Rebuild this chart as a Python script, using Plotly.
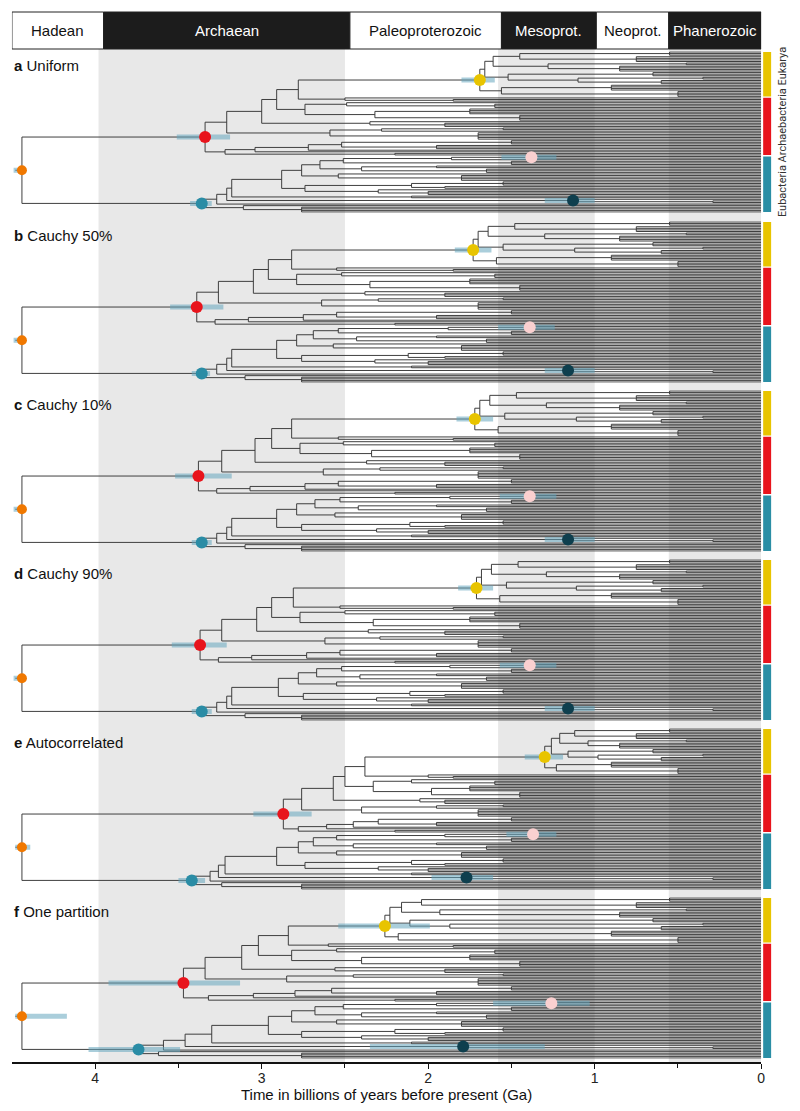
import plotly.graph_objects as go

# ---------------- page geometry (pixels of the 800x1111 page) ----------------
W, H = 800, 1111
X_LEFT_PX, X_RIGHT_PX = 12, 765
PANEL_TOP_PX = [52, 222, 391, 560, 729, 898]
ROW_PX = 1.584
AXIS_PX = 1063

# ---------------- text / categories ----------------
PANEL_LETTERS = ["a", "b", "c", "d", "e", "f"]
PANEL_TITLES = ["Uniform", "Cauchy 50%", "Cauchy 10%", "Cauchy 90%", "Autocorrelated", "One partition"]

ERA_NAMES = ["Hadean", "Archaean", "Paleoproterozoic", "Mesoprot.", "Neoprot.", "Phanerozoic"]
ERA_OLD = [4.50, 3.95, 2.47, 1.56, 0.99, 0.555]
ERA_YOUNG = [3.95, 2.47, 1.56, 0.99, 0.555, 0.0]
ERA_DARK = [False, True, False, True, False, True]

SHADE_OLD = [3.98, 1.58, 0.555]
SHADE_YOUNG = [2.50, 1.00, 0.0]

X_TICKS = [4, 3, 2, 1, 0]
X_MINOR = [3.5, 2.5, 1.5, 0.5]

# ---------------- tree topology ----------------
def N(name, *kids):
    return ("N", name, kids)

def P(k, name):
    return ("P", name, k)

T = ("T",)

TREE = N("ROOT",
  N("ARC",
    N("A1",
      N("A2",
        N("A3",
          N("A4",
            N("EUK",
              N("E1",
                N("E3",
                  N("E5", P(3, "p1"), P(4, "p2")),
                  N("E6", P(2, "p3"), P(4, "p4"))),
                N("E4", P(3, "p5"), N("E7", P(2, "p6"), P(3, "p7")))),
              N("E2", P(4, "p8"), P(4, "p9"))),
            N("ASG", T, P(2, "q1"))),
          N("A6", N("A6a", T, P(3, "q2")), N("A6b", P(4, "q3"), P(4, "q3b")))),
        N("A5", T, P(3, "q4"))),
      N("A7", N("A7a", P(2, "q5"), T), P(5, "q6"))),
    N("A9", N("A10", N("A11", N("A12", P(3, "q7"), P(3, "q8")), T), T), P(2, "q9"))),
  N("BAC",
    N("B1",
      N("B2",
        N("B3",
          N("B4",
            N("B5",
              N("B7",
                N("B9", N("B9a", N("PINK", T, T), T), P(3, "r9")),
                N("B10", P(2, "r10a"), P(3, "r10b"))),
              N("B8", T, P(4, "r8"))),
            N("B6", N("B6a", P(3, "r6a"), P(2, "r6b")), N("B6b", T, P(3, "r6c")))),
          P(2, "r3")),
        N("DARK", T, P(2, "dk"))),
      T),
    N("BLOW", T, P(4, "rlow"))))

# node ages (Ga) per panel, in the order of NODE_NAMES
NODE_NAMES = ["ROOT", "ARC", "A1", "A2", "A3", "A4",
              "EUK", "E1", "E3", "E5", "E6", "E4", "E7", "E2",
              "ASG", "A6", "A6a", "A6b", "A5", "A7", "A7a",
              "A9", "A10", "A11", "A12",
              "BAC", "B1", "B2", "B3", "B4", "B5", "B7", "B9", "B9a", "PINK",
              "B10", "B8", "B6", "B6a", "B6b", "DARK", "BLOW"]
AGES_A = [4.44, 3.34, 3.21, 3.00, 2.91, 2.78,
          1.69, 1.66, 1.61, 1.45, 1.28, 1.52, 1.10, 1.56,
          2.50, 2.74, 2.49, 2.32, 2.35, 2.59, 2.28,
          3.22, 3.04, 2.72, 2.52,
          3.36, 3.27, 3.21, 3.18, 2.88, 2.76, 2.65, 2.51, 1.86, 1.38,
          2.40, 2.54, 2.74, 2.10, 2.30, 1.13, 3.11]
AGES_B = [4.44, 3.39, 3.26, 3.05, 2.96, 2.82,
          1.73, 1.70, 1.64, 1.48, 1.30, 1.55, 1.12, 1.59,
          2.55, 2.79, 2.52, 2.35, 2.38, 2.64, 2.30,
          3.28, 3.08, 2.75, 2.55,
          3.36, 3.27, 3.21, 3.18, 2.91, 2.79, 2.69, 2.54, 1.88, 1.39,
          2.43, 2.57, 2.76, 2.12, 2.32, 1.16, 3.10]
AGES_C = [4.44, 3.38, 3.24, 3.04, 2.94, 2.82,
          1.72, 1.69, 1.63, 1.47, 1.29, 1.54, 1.11, 1.58,
          2.54, 2.77, 2.51, 2.34, 2.37, 2.63, 2.29,
          3.27, 3.07, 2.74, 2.54,
          3.36, 3.27, 3.21, 3.18, 2.91, 2.79, 2.68, 2.53, 1.87, 1.39,
          2.42, 2.56, 2.76, 2.11, 2.31, 1.16, 3.10]
AGES_D = [4.44, 3.37, 3.24, 3.03, 2.94, 2.81,
          1.71, 1.68, 1.62, 1.46, 1.29, 1.53, 1.11, 1.57,
          2.53, 2.77, 2.50, 2.33, 2.36, 2.62, 2.29,
          3.26, 3.06, 2.73, 2.53,
          3.36, 3.27, 3.21, 3.18, 2.90, 2.78, 2.67, 2.52, 1.87, 1.39,
          2.41, 2.55, 2.75, 2.11, 2.31, 1.16, 3.10]
AGES_E = [4.44, 2.87, 2.76, 2.57, 2.50, 2.38,
          1.30, 1.26, 1.21, 1.12, 1.04, 1.16, 0.98, 1.23,
          2.00, 2.33, 2.10, 1.98, 2.05, 2.40, 1.95,
          2.78, 2.61, 2.45, 2.30,
          3.42, 3.31, 3.26, 3.22, 2.91, 2.78, 2.69, 2.55, 1.90, 1.37,
          2.45, 2.55, 2.74, 2.10, 2.30, 1.77, 3.24]
AGES_F = [4.44, 3.47, 3.34, 3.12, 3.02, 2.84,
          2.26, 2.23, 2.16, 2.04, 1.93, 2.11, 1.87, 2.18,
          2.60, 2.82, 2.55, 2.40, 2.56, 2.85, 2.45,
          3.32, 3.05, 2.80, 2.58,
          3.74, 3.59, 3.46, 3.30, 2.96, 2.82, 2.68, 2.51, 1.95, 1.26,
          2.40, 2.55, 2.76, 2.20, 2.40, 1.79, 3.62]
PANEL_AGES = [AGES_A, AGES_B, AGES_C, AGES_D, AGES_E, AGES_F]

# crown ages of the small terminal clades (shared by all panels)
CROWN_NAMES = ["p1", "p2", "p3", "p4", "p5", "p6", "p7", "p8", "p9",
               "q1", "q2", "q3", "q3b", "q4", "q5", "q6", "q7", "q8", "q9",
               "r9", "r10a", "r10b", "r8", "r6a", "r6b", "r6c", "r3", "dk", "rlow"]
CROWN_AGES = [0.55, 0.75, 0.45, 0.85, 0.65, 0.35, 0.60, 0.90, 0.50,
              1.85, 1.60, 1.75, 1.45, 1.90, 1.55, 1.70, 1.50, 1.95, 2.20,
              1.50, 1.95, 1.65, 1.80, 1.55, 1.90, 2.00, 2.10, 0.29, 2.76]
ROOT_STEM = 0.04

# calibrated / highlighted nodes with 95% intervals (old, young)
MARK_NODES = ["ROOT", "ARC", "BAC", "EUK", "PINK", "DARK"]
MARK_COLORS = ["#F07800", "#E8141C", "#2A8CA5", "#E8C400", "#FAD0D0", "#0E3F4E"]
MARK_SIZES = [10, 12, 12, 12, 12, 12]
CI_OLD_A = [4.49, 3.51, 3.43, 1.80, 1.56, 1.30]
CI_YOUNG_A = [4.43, 3.19, 3.30, 1.60, 1.23, 1.00]
CI_OLD_B = [4.49, 3.55, 3.42, 1.84, 1.58, 1.30]
CI_YOUNG_B = [4.43, 3.23, 3.31, 1.62, 1.24, 1.00]
CI_OLD_C = [4.49, 3.52, 3.42, 1.83, 1.57, 1.30]
CI_YOUNG_C = [4.43, 3.18, 3.30, 1.61, 1.23, 1.00]
CI_OLD_D = [4.49, 3.54, 3.42, 1.82, 1.57, 1.30]
CI_YOUNG_D = [4.43, 3.21, 3.30, 1.61, 1.23, 1.00]
CI_OLD_E = [4.48, 3.05, 3.50, 1.42, 1.53, 1.98]
CI_YOUNG_E = [4.39, 2.70, 3.34, 1.19, 1.23, 1.61]
CI_OLD_F = [4.48, 3.92, 4.04, 2.54, 1.61, 2.35]
CI_YOUNG_F = [4.17, 3.13, 3.49, 1.99, 1.03, 1.30]
PANEL_CI = [(CI_OLD_A, CI_YOUNG_A), (CI_OLD_B, CI_YOUNG_B), (CI_OLD_C, CI_YOUNG_C),
            (CI_OLD_D, CI_YOUNG_D), (CI_OLD_E, CI_YOUNG_E), (CI_OLD_F, CI_YOUNG_F)]

DOMAIN_NAMES = ["Eukarya", "Archaebacteria", "Eubacteria"]
DOMAIN_COLORS = ["#E8C400", "#E8141C", "#2A8EA5"]

CROWN = dict(zip(CROWN_NAMES, CROWN_AGES))


# ---------------- tree layout (rectangular cladogram) ----------------
def layout_tree(ages):
    state = {"row": 0}
    xs, ys = [], []
    pos, span = {}, {}

    def seg(x0, y0, x1, y1):
        xs.extend([x0, x1, None])
        ys.extend([y0, y1, None])

    def age_of(node):
        if node[0] == "T":
            return 0.0
        if node[0] == "P":
            return CROWN[node[1]]
        return ages[node[1]]

    def place(node):
        kind = node[0]
        if kind == "T":
            r = state["row"]
            state["row"] += 1
            return r, r, r
        if kind == "P":
            k, c = node[2], CROWN[node[1]]
            rows = list(range(state["row"], state["row"] + k))
            state["row"] += k
            for r in rows:
                seg(c, r, 0.0, r)
            seg(c, rows[0], c, rows[-1])
            return sum(rows) / k, rows[0], rows[-1]
        a = ages[node[1]]
        kid_y, first, last = [], None, None
        for kid in node[2]:
            ky, f, l = place(kid)
            seg(a, ky, age_of(kid), ky)
            kid_y.append(ky)
            first = f if first is None else first
            last = l
        seg(a, min(kid_y), a, max(kid_y))
        y = sum(kid_y) / len(kid_y)
        pos[node[1]] = (a, y)
        span[node[1]] = (first, last)
        return y, first, last

    place(TREE)
    a0, y0 = pos["ROOT"]
    seg(a0 + ROOT_STEM, y0, a0, y0)
    return xs, ys, pos, span, state["row"]


fig = go.Figure()
shapes, annotations = [], []
FONT = "Liberation Sans, Arial, sans-serif"

layout_axes = {}
for i in range(6):
    ages = dict(zip(NODE_NAMES, PANEL_AGES[i]))
    xs, ys, pos, span, ntips = layout_tree(ages)
    yname = "y" if i == 0 else "y%d" % (i + 1)
    axkey = "yaxis" if i == 0 else "yaxis%d" % (i + 1)
    top = PANEL_TOP_PX[i] - 0.5 * ROW_PX
    bot = PANEL_TOP_PX[i] + (ntips - 0.5) * ROW_PX
    layout_axes[axkey] = dict(domain=[1 - bot / H, 1 - top / H], range=[ntips - 0.5, -0.5],
                              visible=False, anchor="x", fixedrange=True)

    fig.add_trace(go.Scatter(x=xs, y=ys, mode="lines", xaxis="x", yaxis=yname,
                             line=dict(color="#363636", width=0.95), hoverinfo="skip"))

    ci_old, ci_young = PANEL_CI[i]
    cx, cy = [], []
    for n, o, yg in zip(MARK_NODES, ci_old, ci_young):
        cx.extend([o, yg, None])
        cy.extend([pos[n][1], pos[n][1], None])
    fig.add_trace(go.Scatter(x=cx, y=cy, mode="lines", xaxis="x", yaxis=yname,
                             line=dict(color="rgba(100,165,190,0.55)", width=5), hoverinfo="skip"))

    fig.add_trace(go.Scatter(x=[pos[n][0] for n in MARK_NODES], y=[pos[n][1] for n in MARK_NODES],
                             mode="markers", xaxis="x", yaxis=yname, opacity=1,
                             marker=dict(color=MARK_COLORS, size=MARK_SIZES, opacity=1, line=dict(width=0)),
                             hoverinfo="skip"))

    # domain colour bars on the right
    e0, e1 = span["EUK"]
    a_0, a_1 = span["ARC"]
    b0, b1 = span["BAC"]
    ranges = [(e0, e1), (e1 + 1, a_1), (b0, b1)]
    for (r0, r1), col in zip(ranges, DOMAIN_COLORS):
        shapes.append(dict(type="rect", xref="paper", yref=yname,
                           x0=767 / W, x1=775 / W, y0=r0 - 0.5 + 0.45, y1=r1 + 0.5 - 0.45,
                           fillcolor=col, line=dict(width=0), layer="above"))

    annotations.append(dict(x=X_LEFT_PX / W, y=1 - (PANEL_TOP_PX[i] + 13.5) / H, xref="paper", yref="paper",
                            text="<b>%s</b> %s" % (PANEL_LETTERS[i], PANEL_TITLES[i]),
                            showarrow=False, xanchor="left", yanchor="middle",
                            font=dict(family=FONT, size=15, color="#111111")))

# background shading of eons
for o, yg in zip(SHADE_OLD, SHADE_YOUNG):
    shapes.append(dict(type="rect", xref="x", yref="paper", x0=o, x1=yg,
                       y0=1 - 1062 / H, y1=1 - 49 / H, fillcolor="#E8E8E8",
                       line=dict(width=0), layer="below"))

# era header
for name, o, yg, dark in zip(ERA_NAMES, ERA_OLD, ERA_YOUNG, ERA_DARK):
    shapes.append(dict(type="rect", xref="x", yref="paper", x0=o, x1=yg,
                       y0=1 - 49 / H, y1=1 - 12 / H,
                       fillcolor="#1C1C1C" if dark else "#FFFFFF",
                       line=dict(color="#222222", width=1), layer="above"))
    annotations.append(dict(x=(o + yg) / 2, y=1 - 30.5 / H, xref="x", yref="paper", text=name,
                            showarrow=False, xanchor="center", yanchor="middle",
                            font=dict(family=FONT, size=15, color="#FFFFFF" if dark else "#111111")))

annotations.append(dict(x=786 / W, y=1 - (PANEL_TOP_PX[0] + 80) / H, xref="paper", yref="paper",
                        text=" ".join(DOMAIN_NAMES[::-1]), textangle=-90, showarrow=False,
                        xanchor="center", yanchor="middle",
                        font=dict(family="Roboto, sans-serif", size=11, color="#333333")))

fig.update_layout(
    width=W, height=H, margin=dict(l=0, r=0, t=0, b=0),
    paper_bgcolor="white", plot_bgcolor="rgba(0,0,0,0)", showlegend=False,
    shapes=shapes, annotations=annotations,
    xaxis=dict(domain=[X_LEFT_PX / W, X_RIGHT_PX / W], range=[4.5, 0], anchor="free",
               position=1 - AXIS_PX / H, showline=True, linecolor="#111111", linewidth=1.5,
               ticks="outside", ticklen=5, tickwidth=1.2, tickcolor="#111111",
               tickvals=X_TICKS, ticktext=[str(t) for t in X_TICKS], ticklabelstandoff=-3,
               minor=dict(tickvals=X_MINOR, ticks="outside", ticklen=4, tickwidth=1, tickcolor="#111111"),
               showgrid=False, zeroline=False, fixedrange=True,
               tickfont=dict(family=FONT, size=14, color="#222222"),
               title=dict(text="Time in billions of years before present (Ga)", standoff=1,
                          font=dict(family=FONT, size=15, color="#111111"))),
    **layout_axes,
)

fig.write_html("out.html", config={"displayModeBar": False},
               post_script="document.body.style.margin='0px';")
